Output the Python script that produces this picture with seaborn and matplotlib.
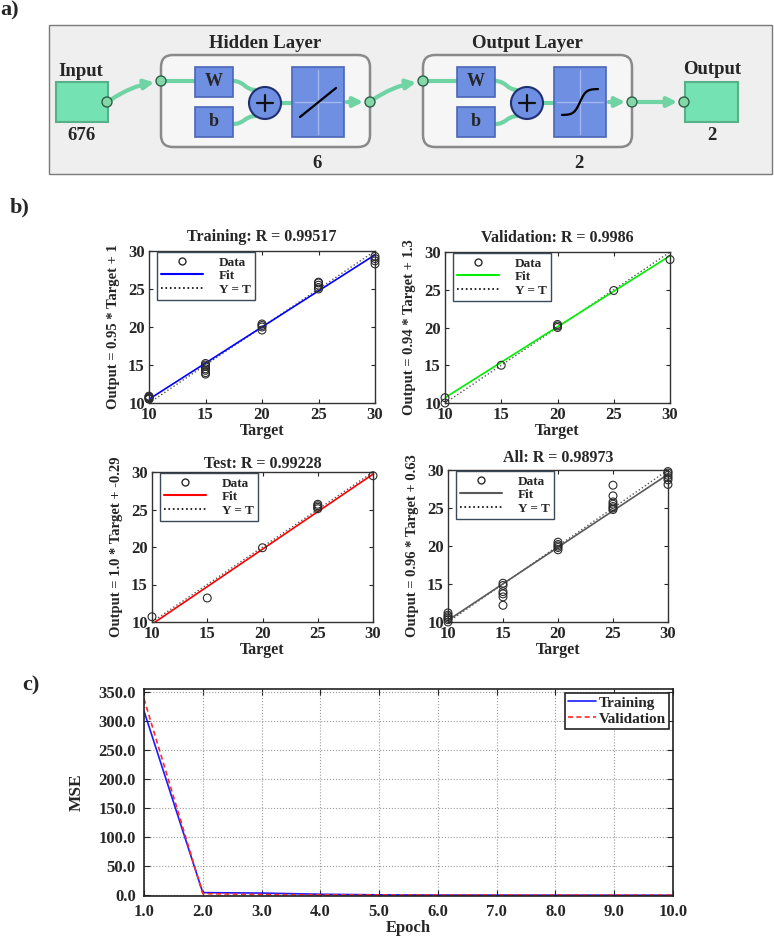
import numpy as np
import pandas as pd
import seaborn as sns
import matplotlib
matplotlib.use("Agg")
import matplotlib.pyplot as plt
from matplotlib.patches import Rectangle, FancyBboxPatch, Circle, FancyArrowPatch, PathPatch
from matplotlib.path import Path
from matplotlib.lines import Line2D
from matplotlib.ticker import FormatStrFormatter

# ---------------- data ----------------
# b) regression plots: target values and network outputs
train_target = [10, 10, 10, 10, 10, 15, 15, 15, 15, 15, 15, 15, 20, 20, 20, 20,
                25, 25, 25, 25, 25, 30, 30, 30, 30]
train_output = [10.5, 10.6, 10.7, 10.8, 10.9, 13.8, 14.0, 14.3, 14.5, 14.8, 15.0, 15.2,
                19.6, 20.0, 20.2, 20.4, 25.0, 25.2, 25.5, 25.8, 25.9, 28.3, 28.7, 29.0, 29.3]

val_target = [10, 10, 15, 20, 20, 20, 25, 30]
val_output = [10.0, 10.7, 15.0, 20.0, 20.2, 20.4, 24.9, 29.0]

test_target = [10, 15, 20, 25, 25, 25, 25, 30]
test_output = [10.7, 13.2, 19.9, 25.1, 25.3, 25.5, 25.7, 29.5]

all_target = [10, 10, 10, 10, 10, 10, 15, 15, 15, 15, 15, 15, 20, 20, 20, 20, 20,
              25, 25, 25, 25, 25, 25, 25, 30, 30, 30, 30, 30, 30]
all_output = [10.0, 10.3, 10.5, 10.7, 10.9, 11.2, 15.1, 14.8, 14.0, 13.7, 13.3, 12.2,
              19.5, 19.8, 20.0, 20.2, 20.5, 28.0, 26.6, 25.8, 25.5, 25.2, 25.0, 24.8,
              28.1, 28.7, 29.0, 29.3, 29.6, 29.8]

panel_titles = ["Training: R = 0.99517", "Validation: R = 0.9986",
                "Test: R = 0.99228", "All: R = 0.98973"]
fit_slope = [0.95, 0.94, 1.0, 0.96]
fit_intercept = [1.0, 1.3, -0.29, 0.63]
fit_labels = ["Output = 0.95 * Target + 1", "Output = 0.94 * Target + 1.3",
              "Output = 1.0 * Target + -0.29", "Output = 0.96 * Target + 0.63"]
fit_colors = ["#0000ff", "#00ee00", "#ff0000", "#5a5a5a"]
reg_ticks = [10, 15, 20, 25, 30]

# c) training performance
epochs = [1, 2, 3, 4, 5, 6, 7, 8, 9, 10]
mse_train = [317, 4.8, 4.0, 2.0, 1.0, 0.6, 0.5, 0.4, 0.35, 0.3]
mse_val = [338, 3.0, 1.5, 1.0, 0.8, 0.7, 0.6, 0.6, 0.5, 0.5]

# ---------------- style ----------------
sns.set_style("ticks")
plt.rcParams['font.family'] = ['Liberation Serif', 'DejaVu Serif']
plt.rcParams['font.weight'] = 'bold'
plt.rcParams['axes.labelweight'] = 'bold'
plt.rcParams['axes.titleweight'] = 'bold'

W, H = 774, 940
fig = plt.figure(figsize=(W / 100, H / 100), dpi=100)


def px_axes(l, t, r, b):
    return fig.add_axes([l / W, 1 - b / H, (r - l) / W, (b - t) / H])


def fig_text(x, y, s, **kw):
    fig.text(x / W, 1 - y / H, s, **kw)


# ---------------- a) network diagram ----------------
ax_a = px_axes(0, 0, W, 190)
ax_a.set_xlim(0, W)
ax_a.set_ylim(190, 0)
ax_a.axis('off')

green = '#74e2b2'
green_line = '#6fd3a3'
blue = '#6e8fe2'
blue_edge = '#4b66b8'


def node(x, y):
    ax_a.add_patch(Circle((x, y), 5, fc='#84d8a8', ec='#2f5f48', lw=1, zorder=6))


def curve(p0, p1, arrow=False):
    mx = (p0[0] + p1[0]) / 2
    if arrow:
        ax_a.add_patch(FancyArrowPatch(p0, p1, arrowstyle='-|>', mutation_scale=14,
                                       connectionstyle='arc3,rad=-0.12',
                                       color=green_line, lw=3, zorder=4))
    else:
        path = Path([p0, (mx, p0[1]), (mx, p1[1]), p1],
                    [Path.MOVETO, Path.CURVE4, Path.CURVE4, Path.CURVE4])
        ax_a.add_patch(PathPatch(path, fc='none', ec=green_line, lw=3, zorder=4))


def straight_arrow(p0, p1):
    ax_a.add_patch(FancyArrowPatch(p0, p1, arrowstyle='-|>', mutation_scale=14,
                                   color=green_line, lw=3, zorder=4))


def layer(x0, x1, title, size, func):
    ax_a.add_patch(FancyBboxPatch((x0, 55), x1 - x0, 92,
                                  boxstyle='round,pad=0,rounding_size=12',
                                  fc='#f6f6f6', ec='#8a8a8a', lw=1.8, zorder=2))
    ax_a.text((x0 + x1) / 2, 43, title, ha='center', va='center', fontsize=13.5)
    ax_a.text(x0 + 156, 163, size, ha='center', va='center', fontsize=13.5)
    wx = x0 + 34
    node(x0, 81)
    ax_a.plot([x0, wx], [81, 81], color=green_line, lw=3, zorder=3)
    for y0, lab in [(67, 'W'), (107, 'b')]:
        ax_a.add_patch(Rectangle((wx, y0), 38, 30, fc=blue, ec=blue_edge, lw=1.2, zorder=5))
        ax_a.text(wx + 19, y0 + 15, lab, ha='center', va='center', fontsize=13, zorder=6)
    cx, cy = x0 + 104, 103
    curve((wx + 38, 81), (cx - 9, cy - 13))
    curve((wx + 38, 124), (cx - 9, cy + 13))
    ax_a.add_patch(Circle((cx, cy), 16, fc=blue, ec='#1f2f6f', lw=1.5, zorder=6))
    ax_a.plot([cx - 8, cx + 8], [cy, cy], color='#111111', lw=1.6, zorder=7)
    ax_a.plot([cx, cx], [cy - 8, cy + 8], color='#111111', lw=1.6, zorder=7)
    tx = x0 + 131
    ax_a.plot([cx + 16, tx], [cy, cy], color=green_line, lw=3, zorder=3)
    ax_a.add_patch(Rectangle((tx, 67), 52, 70, fc=blue, ec=blue_edge, lw=1.2, zorder=5))
    ax_a.plot([tx + 26, tx + 26], [70, 134], color='#a3b7ee', lw=1, zorder=6)
    ax_a.plot([tx + 3, tx + 49], [102, 102], color='#a3b7ee', lw=1, zorder=6)
    if func == 'linear':
        ax_a.plot([tx + 8, tx + 44], [117, 88], color='k', lw=1.6, zorder=7)
    else:
        s = np.linspace(-3, 3, 40)
        ax_a.plot(tx + 26 + s * 6, 102 - np.tanh(s) * 13, color='k', lw=1.6, zorder=7)
    straight_arrow((tx + 52, 102), (x1 - 4, 102))
    node(x1, 102)


ax_a.text(0, 10, 'a)', ha='left', va='center', fontsize=16)
ax_a.add_patch(Rectangle((49, 25), 723, 149, fc='#efefef', ec='#7a7a7a', lw=1, zorder=1))
ax_a.text(81, 71, 'Input', ha='center', va='center', fontsize=13.5)
ax_a.add_patch(Rectangle((56, 82), 52, 40, fc=green, ec='#56b088', lw=1.5, zorder=3))
ax_a.text(81, 136, '676', ha='center', va='center', fontsize=13.5)
node(107, 102)
curve((109, 101), (157, 82), arrow=True)
layer(161, 370, 'Hidden Layer', '6', 'linear')
curve((371, 101), (419, 82), arrow=True)
layer(423, 632, 'Output Layer', '2', 'sigmoid')
straight_arrow((636, 102), (680, 102))
node(684, 102)
ax_a.add_patch(Rectangle((685, 82), 53, 40, fc=green, ec='#56b088', lw=1.5, zorder=3))
ax_a.text(712, 69, 'Output', ha='center', va='center', fontsize=13.5)
ax_a.text(712, 136, '2', ha='center', va='center', fontsize=13.5)

# ---------------- b) regression plots ----------------
fig_text(10, 207, 'b)', ha='left', va='center', fontsize=16, fontweight='bold')
rects = [(149, 251, 375, 403), (445, 252, 670, 403), (152, 472, 373, 622), (448, 470, 668, 622)]
targets = [train_target, val_target, test_target, all_target]
outputs = [train_output, val_output, test_output, all_output]
title_pads = [7, 7, 3, 6]

for i in range(4):
    ax = px_axes(*rects[i])
    sns.scatterplot(x=targets[i], y=outputs[i], ax=ax, marker='o', s=32,
                    linewidth=0.8, edgecolor='#2b2b2b', legend=False, zorder=3, clip_on=False)
    ax.collections[-1].set_facecolor('none')
    fx = np.array([10, 30])
    sns.lineplot(x=fx, y=fx, ax=ax, color='#555555', ls=':', lw=1.0)
    sns.lineplot(x=fx, y=fit_slope[i] * fx + fit_intercept[i], ax=ax,
                 color=fit_colors[i], lw=1.2)
    ax.set_xlim(10, 30)
    ax.set_ylim(10, 30)
    ax.set_xticks(reg_ticks)
    ax.set_yticks(reg_ticks)
    ax.tick_params(direction='in', top=True, right=True, length=3, labelsize=12, pad=3)
    for sp in ax.spines.values():
        sp.set_color('#333333')
        sp.set_linewidth(1.0)
    ax.set_title(panel_titles[i], fontsize=11.5, pad=title_pads[i])
    ax.set_xlabel('Target', fontsize=11.5, labelpad=0)
    ax.set_ylabel(fit_labels[i], fontsize=10.5, labelpad=6)
    handles = [Line2D([], [], marker='o', ls='none', mfc='none', mec='#2b2b2b', ms=5),
               Line2D([], [], color=fit_colors[i], lw=1.5),
               Line2D([], [], color='k', ls=':', lw=1.2)]
    leg = ax.legend(handles, ['Data', 'Fit', 'Y = T'], loc='upper left',
                    bbox_to_anchor=(0.03, 1.0), frameon=True, fancybox=False,
                    fontsize=9.5, handlelength=3.2, handletextpad=1.2, borderpad=0.3,
                    labelspacing=0.1, borderaxespad=0.1, framealpha=1)
    leg.get_frame().set_edgecolor('#3a4a5a')
    leg.get_frame().set_linewidth(1.0)

# ---------------- c) MSE vs epoch ----------------
fig_text(22, 685, 'c)', ha='left', va='center', fontsize=16, fontweight='bold')
ax_c = px_axes(144, 689, 673, 896)
df_mse = pd.DataFrame({'Epoch': epochs + epochs,
                       'MSE': mse_train + mse_val,
                       'set': ['Training'] * len(epochs) + ['Validation'] * len(epochs)})
sns.lineplot(data=df_mse, x='Epoch', y='MSE', hue='set', style='set', ax=ax_c,
             palette={'Training': '#1a1aff', 'Validation': '#ff2a2a'},
             dashes={'Training': '', 'Validation': (3, 2)}, lw=1.2)
ax_c.set_xlim(1, 10)
ax_c.set_ylim(-1, 355)
ax_c.set_xticks(epochs)
ax_c.set_yticks([0, 50, 100, 150, 200, 250, 300, 350])
ax_c.xaxis.set_major_formatter(FormatStrFormatter('%.1f'))
ax_c.yaxis.set_major_formatter(FormatStrFormatter('%.1f'))
ax_c.grid(True, ls=':', color='#9a9a9a', lw=0.8)
ax_c.tick_params(direction='in', top=True, right=True, length=4, labelsize=12)
ax_c.tick_params(axis='y', pad=6)
ax_c.tick_params(axis='x', pad=6)
for sp in ax_c.spines.values():
    sp.set_color('#222222')
    sp.set_linewidth(1.2)
ax_c.set_xlabel('Epoch', fontsize=12, labelpad=0)
ax_c.set_ylabel('MSE', fontsize=12.5, labelpad=10)
h, l = ax_c.get_legend_handles_labels()
leg = ax_c.legend(h, l, title=None, loc='upper right', frameon=True, fancybox=False,
                  fontsize=11, handlelength=1.8, handletextpad=0.2, borderpad=0.2,
                  labelspacing=0.15, borderaxespad=0.25, framealpha=1)
leg.get_frame().set_edgecolor('#222222')
leg.get_frame().set_linewidth(1.2)

fig.savefig('out.png', dpi=100)
